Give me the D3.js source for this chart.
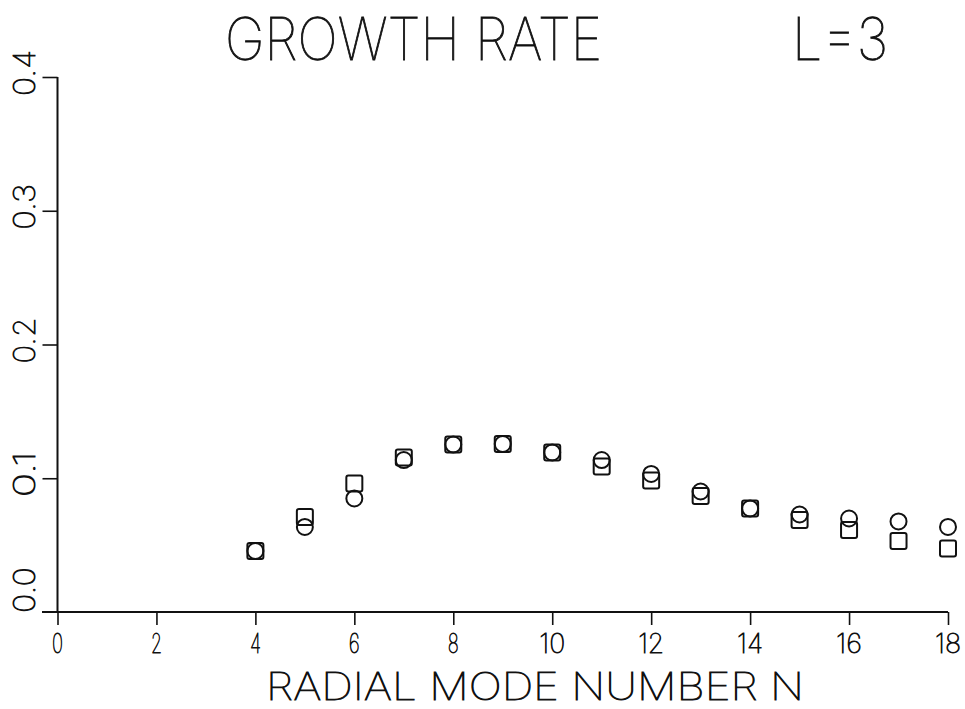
<!DOCTYPE html>
<html>
<head>
<meta charset="utf-8">
<script src="https://cdn.jsdelivr.net/npm/d3@7"></script>
<style>
  html, body { margin: 0; padding: 0; background: #fff; }
  svg { display: block; }
  text { font-family: "Inter", "Roboto", "DejaVu Sans", sans-serif; font-weight: 100; fill: #111; stroke: #111; stroke-width: 0.9; }
</style>
</head>
<body>
<svg id="chart" width="965" height="709"></svg>
<script>
// Radial mode numbers and the two growth-rate series (squares / circles)
const modeN = [4, 5, 6, 7, 8, 9, 10, 11, 12, 13, 14, 15, 16, 17, 18];
const growthSquares = [0.0456, 0.0710, 0.0960, 0.1155, 0.1252, 0.1256, 0.1193, 0.1088, 0.0983, 0.0867, 0.0774, 0.0688, 0.0613, 0.0531, 0.0475];
const growthCircles = [0.0456, 0.0636, 0.0849, 0.1136, 0.1252, 0.1256, 0.1193, 0.1136, 0.1032, 0.0901, 0.0774, 0.0729, 0.0699, 0.0677, 0.0636];
const xTickValues = [0, 2, 4, 6, 8, 10, 12, 14, 16, 18];
const yTickValues = [0.0, 0.1, 0.2, 0.3, 0.4];
const yTickLabels = ["0.0", "0.1", "0.2", "0.3", "0.4"];
const titleText = "GROWTH RATE";
const titleParam = "L=3";
const xAxisTitle = "RADIAL MODE NUMBER N";

const svg = d3.select("#chart");
const ink = "#111";

const x = d3.scaleLinear().domain([0, 18]).range([57.5, 948]);
const y = d3.scaleLinear().domain([0, 0.4]).range([612, 77]);

// x axis: line starts a little left of the y axis, ticks point down
svg.append("line")
  .attr("x1", 42).attr("x2", x(18))
  .attr("y1", y(0)).attr("y2", y(0))
  .attr("stroke", ink).attr("stroke-width", 2);

const xAxis = d3.axisBottom(x).tickValues(xTickValues).tickSize(13).tickSizeOuter(0).tickFormat("");
const gx = svg.append("g").attr("transform", `translate(0,${y(0)})`).call(xAxis);
gx.select(".domain").remove();
gx.selectAll(".tick line").attr("stroke", ink).attr("stroke-width", 1.6);

svg.append("g").selectAll("text")
  .data(xTickValues)
  .join("text")
  .attr("x", d => x(d))
  .attr("y", 653)
  .attr("text-anchor", "middle")
  .attr("font-size", 27)
  .attr("textLength", d => String(d).length === 1 ? 11 : 26)
  .attr("lengthAdjust", "spacingAndGlyphs")
  .text(d => d);

// y axis: ticks point left
const yAxis = d3.axisLeft(y).tickValues(yTickValues.slice(1)).tickSize(15).tickSizeOuter(0).tickFormat("");
const gy = svg.append("g").attr("transform", `translate(${x(0)},0)`).call(yAxis);
gy.select(".domain").remove();
gy.selectAll(".tick line").attr("stroke", ink).attr("stroke-width", 1.6);
svg.append("line")
  .attr("x1", x(0)).attr("x2", x(0))
  .attr("y1", y(0)).attr("y2", y(0.4))
  .attr("stroke", ink).attr("stroke-width", 2);

// rotated y tick labels; the bottom one sits above the axis corner
svg.append("g").selectAll("text")
  .data(yTickValues)
  .join("text")
  .attr("transform", d => d === 0
      ? `translate(35,${y(d) + 1}) rotate(-90)`
      : `translate(35,${y(d) - 4}) rotate(-90)`)
  .attr("text-anchor", d => d === 0 ? "start" : "middle")
  .attr("font-size", 30)
  .attr("textLength", 46)
  .attr("lengthAdjust", "spacingAndGlyphs")
  .text((d, i) => yTickLabels[i]);

// titles
svg.append("text")
  .attr("x", 225).attr("y", 60)
  .attr("font-size", 59)
  .attr("textLength", 377)
  .attr("lengthAdjust", "spacingAndGlyphs")
  .text(titleText);
svg.append("text")
  .attr("x", 792).attr("y", 60)
  .attr("font-size", 59)
  .attr("textLength", 96)
  .attr("lengthAdjust", "spacingAndGlyphs")
  .text(titleParam);
svg.append("text")
  .attr("x", 266).attr("y", 700)
  .attr("font-size", 38)
  .attr("textLength", 538)
  .attr("lengthAdjust", "spacingAndGlyphs")
  .text(xAxisTitle);

// markers
const side = 16;
svg.append("g").selectAll("rect")
  .data(modeN.map((n, i) => ({ n, v: growthSquares[i] })))
  .join("rect")
  .attr("x", d => x(d.n) - side / 2)
  .attr("y", d => y(d.v) - side / 2)
  .attr("width", side).attr("height", side)
  .attr("rx", 2)
  .attr("fill", "none").attr("stroke", ink).attr("stroke-width", 2);

svg.append("g").selectAll("circle")
  .data(modeN.map((n, i) => ({ n, v: growthCircles[i] })))
  .join("circle")
  .attr("cx", d => x(d.n))
  .attr("cy", d => y(d.v))
  .attr("r", 8)
  .attr("fill", "none").attr("stroke", ink).attr("stroke-width", 2);
</script>
</body>
</html>
